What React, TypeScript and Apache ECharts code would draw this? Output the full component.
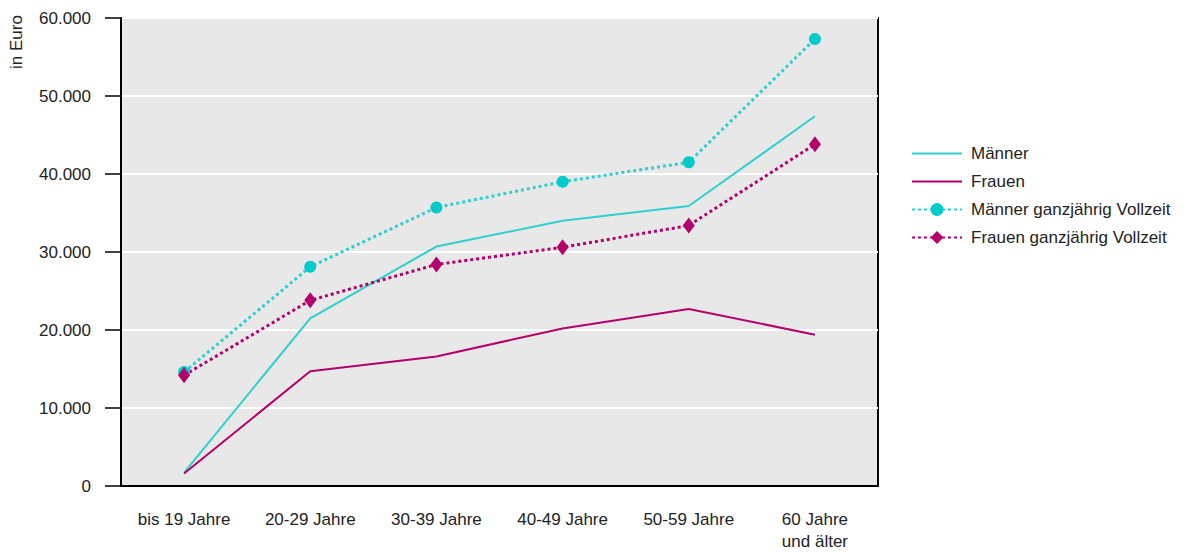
import React, { useEffect, useRef } from "react";
import * as echarts from "echarts";

const categories = ["bis 19 Jahre", "20-29 Jahre", "30-39 Jahre", "40-49 Jahre", "50-59 Jahre", "60 Jahre\nund älter"];
const maenner = [1700, 21500, 30700, 34000, 35900, 47400];
const frauen = [1600, 14700, 16600, 20200, 22700, 19400];
const maennerVZ = [14600, 28100, 35700, 39000, 41500, 57300];
const frauenVZ = [14200, 23800, 28400, 30600, 33400, 43800];
const yTicks = { min: 0, max: 60000, interval: 10000 };

const TEAL = "#2fcfcf";
const TEAL_M = "#00caca";
const MAG = "#b3006a";
const FONT = "'Liberation Sans', Arial, sans-serif";
const FS = 17;

export default function App() {
  const ref = useRef<HTMLDivElement>(null);
  useEffect(() => {
    const chart = echarts.init(ref.current!, null, { renderer: "svg" });
    chart.setOption({
      animation: false,
      textStyle: { fontFamily: FONT, color: "#222" },
      grid: {
        left: 121, right: 310, top: 18, bottom: 65,
        show: true, backgroundColor: "#e8e8e8", borderColor: "#000", borderWidth: 2,
      },
      legend: {
        orient: "vertical",
        left: 906,
        top: 140,
        itemWidth: 50,
        itemHeight: 16,
        itemGap: 11,
        textStyle: { fontFamily: FONT, fontSize: FS, color: "#222", padding: [0, 0, 0, 4] },
        data: [
          { name: "Männer", itemStyle: { opacity: 0 } },
          { name: "Frauen", itemStyle: { opacity: 0 } },
          "Männer ganzjährig Vollzeit",
          "Frauen ganzjährig Vollzeit",
        ],
      },
      graphic: [
        {
          type: "text",
          x: 8, y: 69, rotation: Math.PI / 2,
          style: { text: "in Euro", fontFamily: FONT, fontSize: FS, fill: "#222", textAlign: "left", textVerticalAlign: "top" },
        },
      ],
      xAxis: {
        type: "category",
        data: categories,
        boundaryGap: true,
        axisLine: { lineStyle: { color: "#000", width: 2 } },
        axisTick: { alignWithLabel: true, length: 15, lineStyle: { color: "#000", width: 1.5 } },
        axisLabel: { margin: 22, fontSize: FS, lineHeight: 22, color: "#222", fontFamily: FONT },
      },
      yAxis: {
        type: "value",
        min: yTicks.min, max: yTicks.max, interval: yTicks.interval,
        axisLine: { show: true, lineStyle: { color: "#000", width: 2 } },
        axisTick: { show: true, length: 16, lineStyle: { color: "#000", width: 1.5 } },
        splitLine: { lineStyle: { color: "#fff", width: 2 } },
        axisLabel: {
          margin: 30, fontSize: FS, color: "#222", fontFamily: FONT,
          formatter: (v: number) => v === 0 ? "0" : (v / 1000).toFixed(0) + ".000",
        },
      },
      series: [
        {
          name: "Männer", type: "line", data: maenner, showSymbol: false, symbol: "none",
          lineStyle: { color: TEAL, width: 2 }, itemStyle: { color: TEAL },
        },
        {
          name: "Frauen", type: "line", data: frauen, showSymbol: false, symbol: "none",
          lineStyle: { color: MAG, width: 2 }, itemStyle: { color: MAG },
        },
        {
          name: "Männer ganzjährig Vollzeit", type: "line", data: maennerVZ,
          symbol: "circle", symbolSize: 12,
          lineStyle: { color: TEAL, width: 3, type: [3, 3] }, itemStyle: { color: TEAL_M },
        },
        {
          name: "Frauen ganzjährig Vollzeit", type: "line", data: frauenVZ,
          symbol: "diamond", symbolSize: [12, 16],
          lineStyle: { color: MAG, width: 3, type: [3, 3] }, itemStyle: { color: MAG },
        },
      ],
    });
    return () => chart.dispose();
  }, []);
  return <div ref={ref} style={{ position: "absolute", left: 0, top: 0, width: 1188, height: 552 }} />;
}
